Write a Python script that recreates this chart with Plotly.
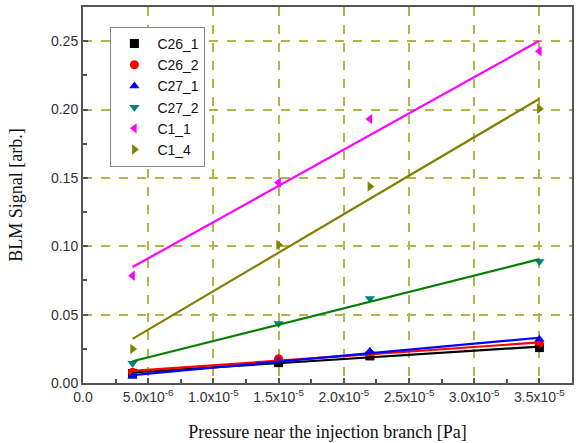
import numpy as np
import plotly.graph_objects as go

pressure = [3.8e-6, 1.5e-5, 2.2e-5, 3.5e-5]
series_names = ["C26_1", "C26_2", "C27_1", "C27_2", "C1_1", "C1_4"]
c26_1 = [0.007, 0.0149, 0.0198, 0.0259]
c26_2 = [0.0078, 0.0178, 0.0212, 0.029]
c27_1 = [0.0048, 0.0162, 0.0232, 0.032]
c27_2 = [0.0144, 0.0435, 0.0618, 0.0889]
c1_1 = [0.0784, 0.1466, 0.1930, 0.2426]
c1_4 = [0.0249, 0.1010, 0.1437, 0.2006]

x_tickvals = [0, 5e-6, 1e-5, 1.5e-5, 2e-5, 2.5e-5, 3e-5, 3.5e-5]
x_ticktext = ["0.0", "5.0x10<sup>-6</sup>", "1.0x10<sup>-5</sup>", "1.5x10<sup>-5</sup>",
              "2.0x10<sup>-5</sup>", "2.5x10<sup>-5</sup>", "3.0x10<sup>-5</sup>", "3.5x10<sup>-5</sup>"]
y_tickvals = [0, 0.05, 0.10, 0.15, 0.20, 0.25]
y_ticktext = ["0.00", "0.05", "0.10", "0.15", "0.20", "0.25"]

data = [c26_1, c26_2, c27_1, c27_2, c1_1, c1_4]
marker_colors = ["#000000", "#ff0000", "#0000ff", "#008080", "#ff00ff", "#808000"]
line_colors = ["#000000", "#ff0000", "#0000ff", "#008000", "#ff00ff", "#808000"]
symbols = ["square", "circle", "triangle-up", "triangle-down", "triangle-left", "triangle-right"]

fig = go.Figure()
xs = np.array(pressure)
for name, ys, mc, sym in zip(series_names, data, marker_colors, symbols):
    fig.add_trace(go.Scatter(x=pressure, y=ys, mode="markers", name=name,
                             marker=dict(symbol=sym, color=mc, size=9)))
for ys, lc in zip(data, line_colors):
    k, b = np.polyfit(xs, np.array(ys), 1)
    xe = np.array([xs.min(), xs.max()])
    fig.add_trace(go.Scatter(x=xe, y=k * xe + b, mode="lines", showlegend=False,
                             line=dict(color=lc, width=2.2), hoverinfo="skip"))

grid_color = "#b4b44c"
axis_common = dict(showline=True, linecolor="#555555", linewidth=2, mirror=True,
                   ticks="inside", ticklen=5, tickcolor="#555555", tickwidth=1.5,
                   showgrid=True, gridcolor=grid_color, griddash="dash", gridwidth=1.5,
                   zeroline=False, automargin=False,
                   tickfont=dict(family="Arial, Liberation Sans", size=14, color="#333333"))

fig.update_xaxes(range=[0, 3.75e-5], tickmode="array", tickvals=x_tickvals, ticktext=x_ticktext,
                 minor=dict(ticks="inside", ticklen=4, tickcolor="#555555", dtick=2.5e-6, tick0=0, showgrid=False),
                 title=dict(text="Pressure near the injection branch [Pa]",
                            font=dict(family="Liberation Serif, Times New Roman", size=18, color="#111111"),
                            standoff=22),
                 **axis_common)
fig.update_yaxes(range=[0, 0.275], tickmode="array", tickvals=y_tickvals, ticktext=y_ticktext,
                 minor=dict(ticks="inside", ticklen=4, tickcolor="#555555", dtick=0.025, tick0=0, showgrid=False),
                 title=dict(text="BLM Signal [arb.]",
                            font=dict(family="Liberation Serif, Times New Roman", size=18, color="#111111"),
                            standoff=24),
                 **axis_common)

fig.update_layout(
    width=577, height=443,
    margin=dict(l=83, r=5, t=7, b=60),
    plot_bgcolor="white", paper_bgcolor="white",
    showlegend=True,
    legend=dict(x=0.056, y=0.947, xanchor="left", yanchor="top",
                bgcolor="white", bordercolor="#888888", borderwidth=1,
                font=dict(family="Arial, Liberation Sans", size=14, color="#111111"),
                itemwidth=36),
)

fig.write_html("out.html", config={"displayModeBar": False},
               post_script="document.body.style.margin='0';")
